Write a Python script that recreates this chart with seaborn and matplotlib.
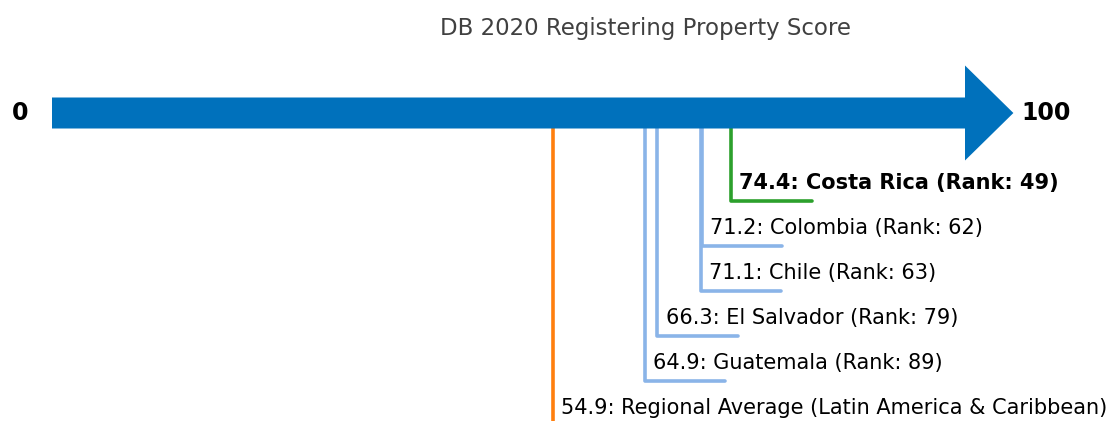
import matplotlib
matplotlib.use("Agg")
import matplotlib.pyplot as plt
import seaborn as sns
import pandas as pd

economies = ['Costa Rica', 'Colombia', 'Chile', 'El Salvador', 'Guatemala']
scores = [74.4, 71.2, 71.1, 66.3, 64.9]
ranks = [49, 62, 63, 79, 89]
regional_label = 'Regional Average (Latin America & Caribbean)'
regional_score = 54.9
title = 'DB 2020 Registering Property Score'

sns.set_theme(style="white")
plt.rcParams['font.family'] = ['DejaVu Sans']

fig = plt.figure(figsize=(11.1, 4.21), dpi=100)
ax = fig.add_axes([0, 0, 1, 1])
px = 9.13  # pixels per score point
ax.set_xlim(-52 / px, (1110 - 52) / px)
ax.set_ylim(421, 0)
ax.axis('off')

axis_y = 113
ax.arrow(0, axis_y, 100, 0, width=31, head_width=95, head_length=5.3,
         length_includes_head=False, color='#0071bc', lw=0, zorder=5)
ax.text(-3.5, axis_y, '0', ha='center', va='center', fontsize=17,
        fontweight='bold', color='black')
ax.text(106.2, axis_y, '100', ha='left', va='center', fontsize=17,
        fontweight='bold', color='black')
ax.text((645 - 52) / px, 28, title, ha='center', va='center', fontsize=16.5, color='#404040')

df = pd.DataFrame({'economy': economies, 'score': scores, 'rank': ranks})
df['row'] = [201 + 45 * i for i in range(len(df))]

for i, r in df.iterrows():
    first = i == 0
    color = '#2ca02c' if first else '#8ab4e8'
    seg = pd.DataFrame({'x': [r.score, r.score, r.score + 8.8],
                        'y': [axis_y, r.row, r.row]})
    sns.lineplot(data=seg, x='x', y='y', sort=False, estimator=None, ax=ax,
                 color=color, lw=2.6, zorder=2)
    ax.text(r.score + 0.9, r.row - 18, f'{r.score}: {r.economy} (Rank: {r["rank"]})',
            ha='left', va='center', fontsize=15,
            fontweight='bold' if first else 'normal', color='black')

seg = pd.DataFrame({'x': [regional_score, regional_score], 'y': [axis_y, 421]})
sns.lineplot(data=seg, x='x', y='y', sort=False, estimator=None, ax=ax,
             color='#ff7f0e', lw=2.6, zorder=2)
ax.text(regional_score + 0.9, 408, f'{regional_score}: {regional_label}',
        ha='left', va='center', fontsize=15, color='black')

ax.set_xlabel('')
ax.set_ylabel('')
fig.savefig('out.png', dpi=100)
